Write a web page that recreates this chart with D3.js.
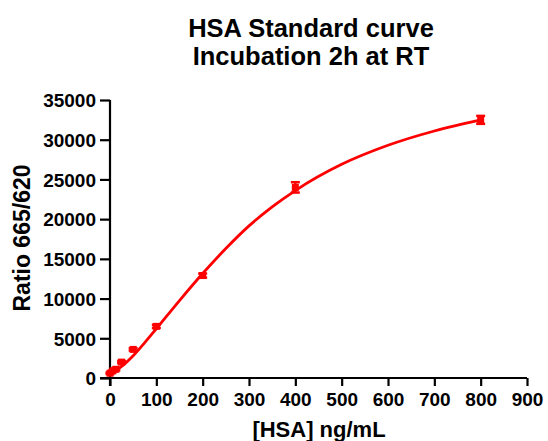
<!DOCTYPE html>
<html><head><meta charset="utf-8">
<script src="https://cdn.jsdelivr.net/npm/d3@7"></script>
<style>body{margin:0;background:#fff}svg{display:block}text{font-family:"Liberation Sans",Arial,sans-serif;font-weight:bold}</style>
</head><body>
<script>
const concentrations = [0, 6.25, 12.5, 25, 50, 100, 200, 400, 800];
const ratios = [600, 900, 1100, 2000, 3600, 6500, 12900, 24000, 32500];
const errors = [100, 100, 150, 150, 150, 200, 250, 650, 500];
const curveX = [0, 12.5, 25, 50, 75, 100, 150, 200, 250, 300, 350, 400, 500, 600, 700, 800];
const curveY = [700, 950, 1450, 2800, 4450, 6200, 9750, 13150, 16300, 19150, 21550, 23600, 26900, 29300, 31100, 32500];
const xTicks = [0, 100, 200, 300, 400, 500, 600, 700, 800, 900];
const yTicks = [0, 5000, 10000, 15000, 20000, 25000, 30000, 35000];

const W = 548, H = 441;
const svg = d3.select("body").append("svg").attr("width", W).attr("height", H);
const m = {left: 110, right: 21, top: 100, bottom: 63};
const x = d3.scaleLinear().domain([0, 900]).range([m.left, W - m.right]);
const y = d3.scaleLinear().domain([0, 35000]).range([H - m.bottom, m.top]);

svg.append("text").attr("x", 311).attr("y", 37).attr("text-anchor", "middle").attr("font-size", 25.5).text("HSA Standard curve");
svg.append("text").attr("x", 311).attr("y", 65).attr("text-anchor", "middle").attr("font-size", 25.5).text("Incubation 2h at RT");

const xa = svg.append("g").attr("transform", `translate(0,${y(0)})`)
  .call(d3.axisBottom(x).tickValues(xTicks).tickSize(8).tickPadding(7).tickFormat(d3.format("d")));
const ya = svg.append("g").attr("transform", `translate(${x(0)},0)`)
  .call(d3.axisLeft(y).tickValues(yTicks).tickSize(10).tickPadding(4).tickFormat(d3.format("d")));
[xa, ya].forEach(g => {
  g.select(".domain").attr("stroke", "#000").attr("stroke-width", 2.2);
  g.selectAll(".tick line").attr("stroke", "#000").attr("stroke-width", 2.2);
  g.selectAll(".tick text").attr("font-size", 19).attr("fill", "#000")
    .attr("font-family", "'Liberation Sans',Arial,sans-serif").attr("font-weight", "bold");
});
ya.selectAll(".tick text").attr("dy", "0.36em");
xa.select(".domain").attr("d", `M${x(0)-10},0H${x(900)}`);
ya.select(".domain").attr("d", `M0,${y(35000)}V${y(0)+8}`);

svg.append("text").attr("x", 319).attr("y", 437).attr("text-anchor", "middle").attr("font-size", 22).text("[HSA] ng/mL");
svg.append("text").attr("transform", "translate(30,238) rotate(-90)").attr("text-anchor", "middle").attr("font-size", 23).text("Ratio 665/620");

const line = d3.line().x((d, i) => x(curveX[i])).y(d => y(d)).curve(d3.curveMonotoneX);
svg.append("path").datum(curveY).attr("d", line).attr("fill", "none").attr("stroke", "#ff0000").attr("stroke-width", 2.8);

const pts = concentrations.map((c, i) => ({c, v: ratios[i], e: errors[i]}));
const g = svg.append("g").attr("fill", "#ff0000").attr("stroke", "#ff0000");
pts.forEach(p => {
  const px = x(p.c), yt = y(p.v + p.e), yb = y(p.v - p.e);
  g.append("line").attr("x1", px).attr("x2", px).attr("y1", yt).attr("y2", yb).attr("stroke-width", 2.5);
  g.append("line").attr("x1", px - 4.5).attr("x2", px + 4.5).attr("y1", yt).attr("y2", yt).attr("stroke-width", 2.5);
  g.append("line").attr("x1", px - 4.5).attr("x2", px + 4.5).attr("y1", yb).attr("y2", yb).attr("stroke-width", 2.5);
  g.append("rect").attr("x", px - 3.5).attr("y", y(p.v) - 3.5).attr("width", 7).attr("height", 7).attr("stroke", "none");
});
</script>
</body></html>
